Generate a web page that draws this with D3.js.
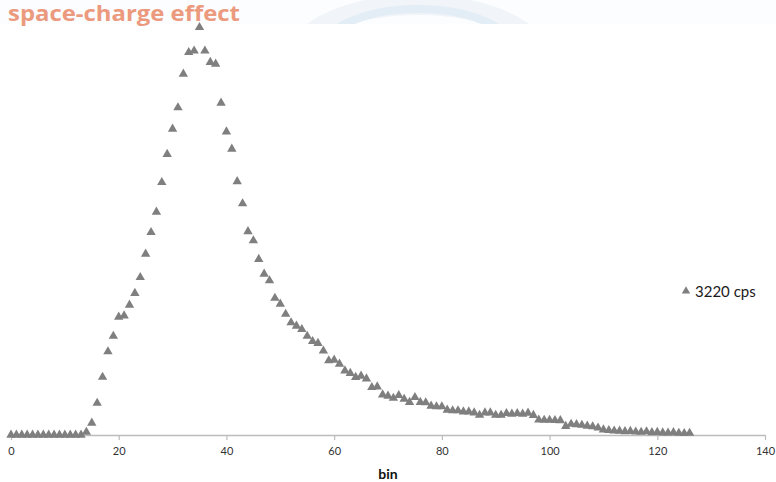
<!DOCTYPE html>
<html>
<head>
<meta charset="utf-8">
<script src="https://cdn.jsdelivr.net/npm/d3@7"></script>
<style>
  html, body { margin: 0; padding: 0; background: #fcfdfe; }
  svg { display: block; }
</style>
</head>
<body>
<svg id="chart" width="776" height="482"></svg>
<script>
// Pulse-height spectrum: counts per bin at 3220 cps
const bins = d3.range(0, 127);
const counts = [
  0, 0, 0, 0, 0, 0, 0, 0, 0, 0,
  0, 0, 0, 0, 14, 57, 152, 276, 397, 471,
  562, 568, 619, 675, 751, 862, 965, 1062, 1203, 1337,
  1457, 1559, 1719, 1822, 1829, 1941, 1829, 1775, 1767, 1581,
  1444, 1362, 1207, 1102, 969, 926, 837, 767, 735, 652,
  624, 576, 535, 519, 503, 471, 446, 437, 401, 354,
  357, 338, 306, 294, 275, 281, 268, 227, 230, 192,
  186, 176, 189, 171, 156, 179, 156, 154, 138, 135,
  135, 119, 116, 116, 111, 111, 106, 95, 106, 106,
  95, 95, 103, 100, 103, 100, 105, 94, 72, 71,
  71, 70, 69, 42, 52, 50, 47, 43, 40, 34,
  25, 22, 20, 19, 17, 18, 15, 14, 16, 12,
  13, 11, 10, 12, 9, 8, 9
];
const xTicks = [0, 20, 40, 60, 80, 100, 120, 140];
const seriesName = "3220 cps";
const xTitle = "bin";
const slideTitle = "space-charge effect";

const svg = d3.select("#chart");

// faint watermark arc in the slide header
const head = svg.append("g");
head.append("ellipse")
  .attr("cx", 418).attr("cy", 60).attr("rx", 122).attr("ry", 55)
  .attr("fill", "none").attr("stroke", "#f1f5f9").attr("stroke-width", 20);
head.append("ellipse")
  .attr("cx", 418).attr("cy", 62).attr("rx", 105).attr("ry", 53)
  .attr("fill", "none").attr("stroke", "#e3edf5").attr("stroke-width", 8);

// white chart area
svg.append("rect")
  .attr("x", 0).attr("y", 24).attr("width", 776).attr("height", 458)
  .attr("fill", "#ffffff");

// slide title
svg.append("text")
  .attr("x", 8).attr("y", 21)
  .attr("font-family", "'Open Sans', 'DejaVu Sans', sans-serif")
  .attr("font-weight", "bold")
  .attr("font-size", 21)
  .attr("textLength", 232)
  .attr("lengthAdjust", "spacingAndGlyphs")
  .attr("fill", "#ec9a7e")
  .text(slideTitle);

const x = d3.scaleLinear().domain([0, 140]).range([11, 765]);
const y = d3.scaleLinear().domain([0, 2000]).range([435, 15]);

// x axis
const axisG = svg.append("g")
  .attr("transform", `translate(0,${y(0)})`)
  .call(d3.axisBottom(x).tickValues(xTicks).tickSize(5).tickPadding(7).tickSizeOuter(0));
axisG.select(".domain").attr("stroke", "#bcbcbc").attr("stroke-width", 1.3);
axisG.selectAll(".tick line").attr("stroke", "#bcbcbc").attr("stroke-width", 1.2);
axisG.selectAll(".tick text")
  .attr("font-family", "Lato, 'Open Sans', sans-serif")
  .attr("font-size", 11)
  .attr("fill", "#333333");

svg.append("text")
  .attr("x", 388).attr("y", 479)
  .attr("text-anchor", "middle")
  .attr("font-family", "Lato, 'Open Sans', sans-serif")
  .attr("font-weight", "bold")
  .attr("font-size", 14)
  .attr("fill", "#111111")
  .text(xTitle);

// data markers
const tri = d3.symbol().type(d3.symbolTriangle).size(38);
svg.append("g")
  .selectAll("path")
  .data(bins.map((b, i) => ({ bin: b, v: counts[i] })))
  .join("path")
  .attr("d", tri)
  .attr("transform", d => `translate(${x(d.bin)},${y(d.v)})`)
  .attr("fill", "#7f7f7f");

// legend
const leg = svg.append("g").attr("transform", "translate(686,291)");
leg.append("path").attr("d", d3.symbol().type(d3.symbolTriangle).size(30)).attr("fill", "#7f7f7f");
leg.append("text")
  .attr("x", 9).attr("y", 5.5)
  .attr("font-family", "Lato, 'Open Sans', sans-serif")
  .attr("font-size", 15)
  .attr("fill", "#1a1a1a")
  .text(seriesName);
</script>
</body>
</html>
